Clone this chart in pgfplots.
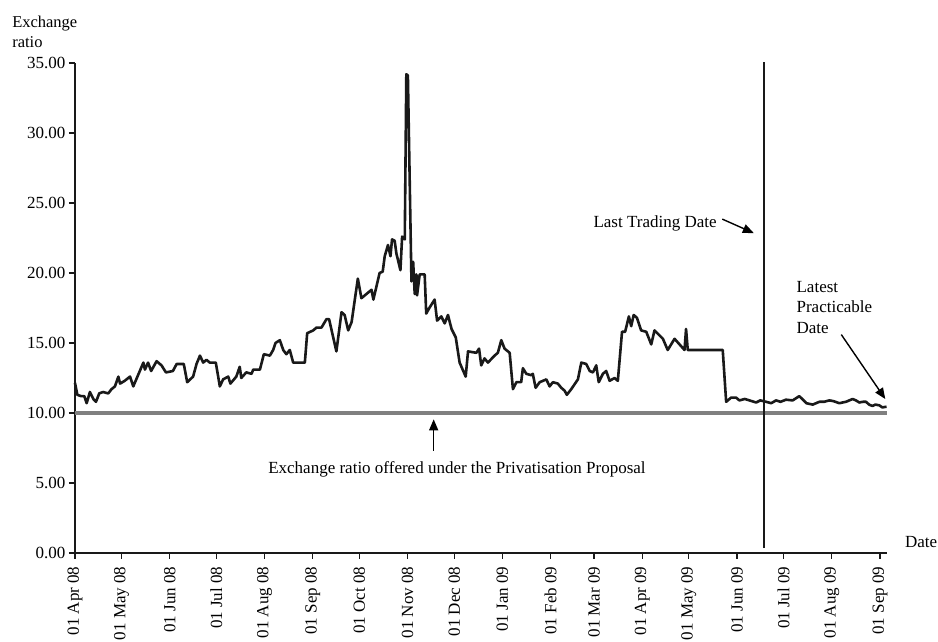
\documentclass[border=0pt]{standalone}
\usepackage{pgfplots}
\pgfplotsset{compat=1.18}
\usepackage{fontspec}
\setmainfont{Liberation Serif}
\usetikzlibrary{arrows.meta}
\begin{document}
\begin{tikzpicture}[font=\fontsize{17}{20.5}\selectfont]
\begin{axis}[
  scale only axis, width=812pt, height=490pt,
  xmin=0, xmax=522.5, ymin=0, ymax=35,
  clip=false,
  axis lines*=left,
  axis line style={line width=1.7pt, black!90},
  tick style={line width=1.2pt, black!90},
  tick align=outside, major tick length=6pt,
  xtick={0,30,61,91,122,153,183,214,244,275,306,334,365,395,426,456,487,518},
  xticklabels={01 Apr 08,01 May 08,01 Jun 08,01 Jul 08,01 Aug 08,01 Sep 08,01 Oct 08,01 Nov 08,01 Dec 08,01 Jan 09,01 Feb 09,01 Mar 09,01 Apr 09,01 May 09,01 Jun 09,01 Jul 09,01 Aug 09,01 Sep 09},
  xticklabel style={rotate=90, anchor=east, font=\fontsize{17}{20}\selectfont},
  xticklabel shift=4pt,
  ytick={0,5,10,15,20,25,30,35},
  yticklabel style={font=\fontsize{17}{20}\selectfont,
    /pgf/number format/fixed, /pgf/number format/fixed zerofill,
    /pgf/number format/precision=2, /pgf/number format/assume math mode=true},
]
\coordinate (O) at (rel axis cs:0,0);
% offered exchange ratio
\addplot[color=black!50, line width=4pt] coordinates {(0,10) (522.5,10)};
% exchange ratio series
\addplot[black!90, line width=2.6pt, line join=round] coordinates {
(0,12.15) (1.5,11.3) (4,11.2) (6,11.2) (7.5,10.7) (9.6,11.5) (11.8,11.0) (13.5,10.8)
(15.6,11.4) (18,11.5) (21.4,11.4) (23.5,11.7) (25.7,11.9) (27.9,12.6) (29,12.1)
(32,12.3) (35.4,12.6) (37.5,11.9) (44,13.6) (45,13.1) (47,13.6) (49,13.0) (52.5,13.7)
(55.7,13.4) (58.5,12.9) (63,13.0) (65.4,13.5) (70,13.5) (72.2,12.2) (76,12.6)
(78.2,13.5) (80.4,14.1) (82.5,13.6) (84.6,13.8) (86.7,13.6) (90.6,13.6) (93.2,11.9)
(95.3,12.4) (98.6,12.6) (100,12.1) (103.8,12.6) (106,13.3) (107,12.5) (110.2,12.9)
(113.6,12.8) (114.7,13.1) (119,13.1) (121.5,14.2) (125.4,14.1) (127.5,14.5) (129,15.0)
(131.8,15.2) (134,14.5) (136,14.2) (138.2,14.5) (140.4,13.6) (142.5,13.6) (147.9,13.6)
(149.4,15.7) (153.3,15.9) (155.4,16.1) (158.6,16.1) (161.8,16.7) (163.5,16.7)
(168.2,14.4) (171.5,17.2) (173.5,17.0) (175.8,15.9) (178,16.5) (182,19.6) (184.3,18.2)
(190.8,18.8) (192,18.1) (196,20.0) (198,20.1) (199.3,21.2) (201.4,22.0) (203,21.2)
(204,22.4) (205.7,22.3) (206.8,21.4) (209.4,20.2) (210.5,22.6) (212.2,22.4)
(213.2,34.2) (214.2,34.1) (216.5,19.4) (217.6,20.8) (218.6,18.5) (219.7,19.9)
(220.1,18.4) (221.8,19.9) (225,19.9) (226,17.1) (228,17.5) (231.4,18.1) (233,16.6)
(235.7,16.9) (237.9,16.4) (240,17.0) (242.3,16.0) (245,15.4) (247.5,13.6) (251.4,12.6)
(252.9,14.4) (258.3,14.3) (260,14.6) (261.4,13.4) (263.5,13.9) (265.7,13.6) (270,14.1)
(272.1,14.3) (274.3,15.2) (276.4,14.6) (279.7,14.3) (281.8,11.7) (284,12.2) (287.1,12.2)
(288.2,13.2) (290.4,12.8) (293.6,12.7) (294.6,12.8) (296.4,11.8) (299,12.2) (303.3,12.4)
(305.4,11.9) (307.5,12.2) (310.7,12.1) (312.9,11.8) (315,11.6) (316.5,11.3) (319.3,11.7)
(323.6,12.4) (325.8,13.6) (329,13.5) (331.2,13.0) (333.3,12.9) (335.4,13.4) (337,12.2)
(339.7,12.8) (341.8,13.0) (344,12.3) (347.2,12.5) (349.3,12.3) (352,15.8) (354,15.8)
(356.4,16.9) (357.9,16.2) (359.5,17.0) (361.6,16.8) (364.3,15.9) (367.6,15.8)
(370.8,14.9) (372.9,15.9) (378.3,15.3) (381.4,14.5) (385.8,15.3) (392.2,14.5)
(393.2,16.0) (394.3,14.5) (416.8,14.5) (419,10.8) (422.2,11.1) (425.4,11.1) (427.5,10.9)
(431,11.0) (434,10.9) (438.3,10.75) (441,10.9) (444.7,10.8) (448,10.7) (451.1,10.9)
(454,10.8) (457.5,10.95) (461.8,10.9) (466,11.2) (468,11.0) (470.6,10.7) (474.7,10.6)
(479,10.8) (482,10.8) (485.4,10.9) (488,10.85) (491.8,10.7) (496.1,10.8) (500.4,11.0)
(502.5,10.9) (504.7,10.75) (507,10.8) (509,10.8) (511,10.6) (513.2,10.5) (515,10.6)
(517.5,10.55) (519.5,10.4) (522.2,10.45)
};
% last trading date line
\addplot[black!90, line width=1.6pt] coordinates {(443.2,0.35) (443.2,35.1)};
% annotations
\node[anchor=east, inner sep=0pt] at (axis cs:413,23.55) {Last Trading Date};
\draw[-{Triangle[length=11pt,width=9pt]}, line width=1.4pt] (axis cs:416.5,23.85) -- (axis cs:436.8,22.85);
\node[anchor=north west, align=left, inner sep=0pt] at (axis cs:464.2,19.45) {Latest\\Practicable\\Date};
\draw[-{Triangle[length=11pt,width=9pt]}, line width=1.4pt] (axis cs:493.1,15.6) -- (axis cs:521.4,11.0);
\node[inner sep=0pt] at (axis cs:245.8,6.0) {Exchange ratio offered under the Privatisation Proposal};
\draw[-{Triangle[length=11pt,width=9pt]}, line width=1.4pt] (axis cs:230.8,7.3) -- (axis cs:230.8,9.55);
\node[anchor=north west, align=left, inner sep=0pt, font=\fontsize{16.5}{20}\selectfont] at (axis cs:-40.5,38.4) {Exchange\\ratio};
\node[anchor=west, inner sep=0pt] at (axis cs:534,0.75) {Date};
\end{axis}
\pgfresetboundingbox
\path ([shift={(-75pt,553pt)}]O) rectangle ([shift={(863pt,-89pt)}]O);
\end{tikzpicture}
\end{document}
